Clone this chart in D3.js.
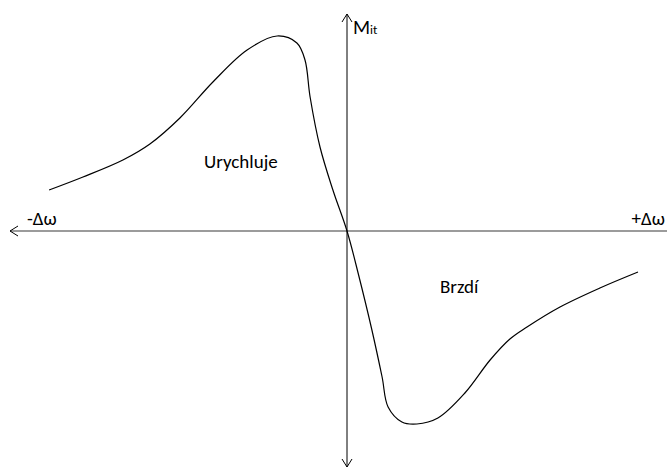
<!DOCTYPE html>
<html>
<head>
<meta charset="utf-8">
<script src="https://cdn.jsdelivr.net/npm/d3@7/dist/d3.min.js"></script>
<style>
  html, body { margin: 0; padding: 0; background: #fff; }
  text { font-family: Carlito, "Open Sans", "Noto Sans", sans-serif; fill: #000; }
</style>
</head>
<body>
<svg id="chart" width="667" height="470"></svg>
<script>
// Torque vs. slip deviation curve (normalised units)
const slip   = [-0.993, -0.88, -0.747, -0.657, -0.557, -0.447, -0.333, -0.233, -0.167, -0.14, -0.123, -0.09, -0.047, 0,
                0.037, 0.083, 0.117, 0.137, 0.183, 0.233, 0.303, 0.393, 0.477, 0.543, 0.6, 0.71, 0.843, 0.97];
const torque = [0.205, 0.27, 0.355, 0.435, 0.565, 0.745, 0.905, 0.975, 0.94, 0.855, 0.67, 0.42, 0.205, 0,
                -0.21, -0.495, -0.73, -0.88, -0.955, -0.965, -0.935, -0.81, -0.645, -0.54, -0.48, -0.38, -0.285, -0.205];
const axisLabels   = ["-Δω", "+Δω"];
const regionLabels = ["Urychluje", "Brzdí"];

const svg = d3.select("#chart");
const x = d3.scaleLinear().domain([-1, 1]).range([47, 647]);
const y = d3.scaleLinear().domain([-1, 1]).range([431, 31]);

const x0 = x(0), y0 = y(0);

// horizontal axis (slip)
svg.append("line")
  .attr("x1", 10).attr("x2", 667).attr("y1", y0).attr("y2", y0)
  .attr("stroke", "#7a7a7a").attr("stroke-width", 1.3);
svg.append("path")
  .attr("d", `M${18},${y0 - 5}L${10},${y0}L${18},${y0 + 5}`)
  .attr("fill", "none").attr("stroke", "#000").attr("stroke-width", 1);

// vertical axis (torque)
svg.append("line")
  .attr("x1", x0).attr("x2", x0).attr("y1", 14).attr("y2", 467)
  .attr("stroke", "#000").attr("stroke-width", 1);
svg.append("path")
  .attr("d", `M${x0 - 5},${22}L${x0},${14}L${x0 + 5},${22}`)
  .attr("fill", "none").attr("stroke", "#000").attr("stroke-width", 1);
svg.append("path")
  .attr("d", `M${x0 - 5},${459}L${x0},${467}L${x0 + 5},${459}`)
  .attr("fill", "none").attr("stroke", "#000").attr("stroke-width", 1);

// characteristic curve
const pts = slip.map((s, i) => [s, torque[i]]);
svg.append("path")
  .datum(pts)
  .attr("d", d3.line().x(d => x(d[0])).y(d => y(d[1])).curve(d3.curveCatmullRom.alpha(0.5)))
  .attr("fill", "none").attr("stroke", "#000").attr("stroke-width", 1.2);

// labels
svg.append("text").attr("x", 27).attr("y", 225).attr("font-size", 19).text(axisLabels[0]);
svg.append("text").attr("x", 665).attr("y", 225).attr("text-anchor", "end").attr("font-size", 19).text(axisLabels[1]);
svg.append("text").attr("x", 204).attr("y", 168).attr("font-size", 19).text(regionLabels[0]);
svg.append("text").attr("x", 440).attr("y", 293).attr("font-size", 19).text(regionLabels[1]);

const m = svg.append("text").attr("x", 353).attr("y", 34);
m.append("tspan").attr("font-size", 20).text("M");
m.append("tspan").attr("font-size", 13).text("it");
</script>
</body>
</html>
